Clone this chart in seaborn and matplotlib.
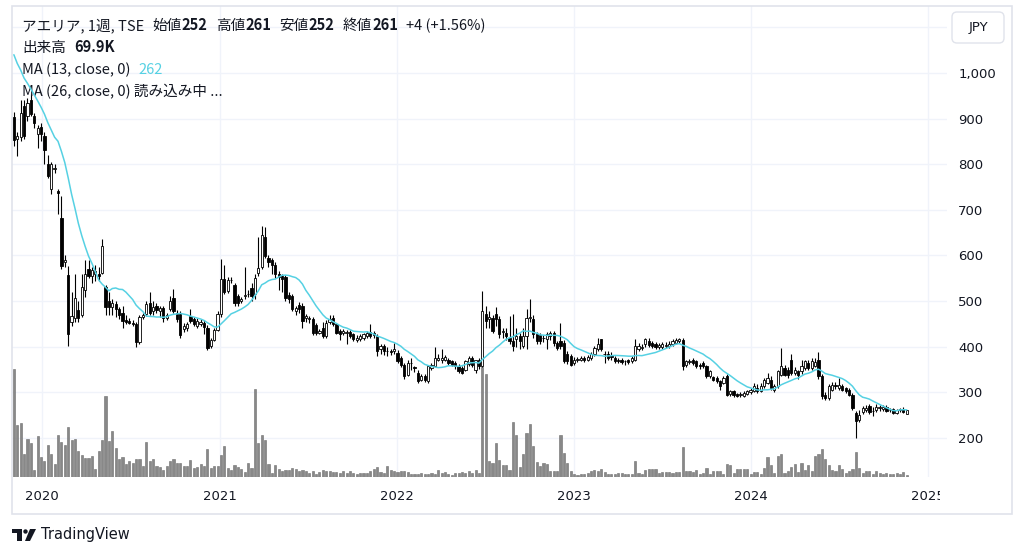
import pandas as pd
import matplotlib
matplotlib.use("Agg")
import matplotlib.pyplot as plt
import matplotlib.dates as mdates
import matplotlib.transforms as mtransforms
from matplotlib.patches import Polygon, Circle, FancyBboxPatch, Rectangle
import seaborn as sns

# weekly candles (TSE, アエリア), first week starts 2019-11-04
first_week = "2019-11-04"

# closes of the 12 weeks before the window, only used to warm up the 13-week MA
prior_closes = [1110, 1100, 1090, 1085, 1070, 1060, 1050, 1045, 1030, 1020, 1010, 996]

opens = [
    904, 856, 860, 928, 905, 940, 905, 866, 882, 862,
    800, 745, 790, 742, 682, 585, 558, 455, 462, 480,
    470, 525, 570, 555, 560, 560, 562, 530, 500, 488,
    493, 482, 475, 458, 456, 452, 450, 410, 466, 472,
    496, 478, 490, 478, 485, 462, 482, 507, 474, 471,
    438, 440, 467, 460, 446, 449, 452, 441, 401, 415,
    437, 471, 549, 522, 547, 535, 511, 500, 512, 516,
    529, 515, 562, 575, 640, 595, 590, 580, 560, 555,
    553, 514, 511, 478, 492, 490, 463, 460, 460, 448,
    430, 441, 424, 455, 464, 449, 434, 430, 431, 432,
    427, 415, 416, 420, 424, 432, 431, 424, 395, 401,
    390, 390, 390, 387, 376, 361, 339, 364, 355, 342,
    328, 335, 324, 354, 357, 372, 370, 372, 372, 368,
    365, 357, 354, 350, 362, 376, 350, 372, 357, 471,
    460, 464, 471, 460, 432, 431, 420, 412, 416, 423,
    402, 424, 462, 460, 427, 425, 420, 416, 423, 431,
    409, 412, 409, 383, 379, 365, 372, 372, 376, 372,
    376, 383, 394, 416, 383, 383, 382, 376, 372, 372,
    368, 370, 368, 372, 395, 398, 405, 412, 408, 406,
    399, 400, 402, 401, 406, 409, 412, 415, 361, 366,
    372, 368, 361, 364, 357, 335, 333, 331, 324, 321,
    335, 297, 302, 296, 295, 293, 297, 300, 302, 310,
    302, 313, 320, 328, 305, 313, 339, 353, 350, 372,
    343, 346, 346, 354, 364, 353, 358, 371, 335, 295,
    288, 306, 317, 310, 313, 309, 306, 295, 255, 240,
    258, 262, 270, 259, 262, 266, 264, 268, 261, 263,
    254, 262, 264, 252,
]

highs = [
    915, 870, 940, 940, 945, 955, 912, 885, 890, 870,
    820, 805, 800, 745, 730, 600, 578, 520, 560, 500,
    560, 590, 590, 575, 580, 575, 637, 535, 520, 505,
    500, 488, 490, 470, 462, 458, 455, 470, 475, 500,
    520, 500, 495, 490, 490, 475, 511, 526, 480, 478,
    452, 455, 482, 465, 462, 460, 458, 447, 420, 440,
    478, 592, 580, 552, 552, 540, 515, 510, 575, 525,
    540, 560, 640, 665, 662, 600, 595, 585, 565, 560,
    558, 520, 515, 490, 498, 495, 472, 468, 465, 452,
    438, 455, 458, 470, 470, 452, 438, 438, 436, 436,
    430, 425, 428, 430, 435, 450, 435, 428, 405, 405,
    400, 395, 408, 392, 380, 365, 370, 375, 358, 348,
    340, 340, 360, 365, 400, 385, 395, 382, 375, 372,
    368, 362, 358, 372, 380, 380, 372, 375, 523, 490,
    478, 470, 486, 468, 440, 440, 467, 471, 440, 430,
    440, 482, 504, 470, 432, 430, 425, 432, 434, 435,
    412, 453, 415, 390, 385, 378, 378, 380, 380, 382,
    388, 402, 420, 418, 390, 390, 388, 380, 376, 376,
    372, 374, 380, 416, 408, 405, 420, 420, 412, 410,
    408, 410, 410, 412, 416, 420, 420, 420, 372, 374,
    376, 372, 365, 368, 360, 350, 336, 335, 328, 336,
    340, 305, 306, 299, 300, 302, 306, 310, 320, 318,
    320, 332, 342, 335, 318, 350, 397, 360, 355, 383,
    355, 350, 372, 372, 370, 375, 375, 388, 340, 300,
    318, 322, 322, 331, 318, 312, 310, 298, 260, 262,
    270, 272, 275, 268, 275, 272, 272, 272, 266, 266,
    264, 266, 268, 261,
]

lows = [
    840, 818, 850, 855, 895, 905, 880, 835, 850, 800,
    770, 735, 780, 690, 570, 575, 401, 445, 455, 455,
    465, 510, 550, 540, 545, 545, 560, 470, 470, 470,
    465, 460, 440, 450, 450, 445, 400, 405, 460, 468,
    470, 470, 475, 465, 455, 458, 478, 475, 455, 420,
    432, 435, 452, 445, 440, 445, 428, 393, 398, 412,
    435, 465, 515, 518, 540, 490, 490, 495, 505, 508,
    500, 505, 555, 570, 595, 575, 560, 550, 525, 520,
    500, 495, 478, 470, 475, 440, 455, 452, 425, 425,
    428, 420, 420, 450, 445, 428, 415, 425, 405, 420,
    412, 410, 412, 415, 420, 420, 420, 380, 385, 382,
    380, 382, 385, 365, 355, 330, 335, 350, 345, 320,
    324, 322, 320, 350, 355, 368, 365, 368, 360, 357,
    352, 343, 340, 347, 358, 356, 343, 352, 355, 440,
    440, 430, 445, 420, 420, 415, 405, 390, 400, 395,
    398, 395, 455, 420, 405, 405, 410, 395, 415, 402,
    392, 395, 365, 362, 358, 360, 366, 368, 366, 368,
    372, 380, 390, 390, 365, 372, 372, 364, 364, 362,
    360, 362, 364, 368, 390, 392, 400, 400, 398, 395,
    396, 396, 398, 397, 402, 405, 408, 350, 355, 362,
    360, 354, 352, 354, 332, 332, 324, 320, 306, 318,
    292, 293, 290, 289, 290, 290, 294, 297, 300, 298,
    300, 310, 318, 305, 300, 310, 335, 335, 332, 338,
    338, 330, 340, 350, 348, 350, 355, 330, 286, 284,
    284, 302, 308, 306, 302, 298, 292, 262, 200, 236,
    252, 258, 253, 248, 258, 260, 260, 256, 258, 252,
    252, 258, 254, 252,
]

closes = [
    854, 862, 912, 862, 935, 910, 890, 880, 866, 832,
    775, 800, 792, 738, 577, 590, 428, 467, 507, 462,
    530, 560, 555, 568, 565, 555, 620, 487, 488, 495,
    482, 470, 456, 455, 453, 450, 410, 466, 470, 493,
    475, 486, 480, 484, 462, 470, 500, 478, 460, 426,
    446, 450, 456, 449, 456, 454, 443, 397, 415, 437,
    471, 548, 520, 546, 546, 496, 496, 504, 514, 515,
    511, 551, 573, 645, 599, 585, 580, 559, 553, 548,
    507, 504, 482, 485, 482, 456, 467, 463, 430, 430,
    434, 424, 453, 460, 449, 431, 427, 434, 431, 424,
    416, 420, 423, 427, 431, 424, 425, 390, 401, 390,
    391, 389, 394, 368, 361, 335, 365, 364, 354, 324,
    335, 328, 357, 361, 376, 376, 376, 378, 365, 361,
    357, 346, 343, 368, 376, 361, 370, 357, 479, 457,
    465, 435, 460, 427, 434, 424, 412, 401, 423, 412,
    424, 464, 466, 427, 412, 412, 419, 427, 430, 408,
    398, 401, 368, 368, 361, 372, 372, 376, 371, 378,
    383, 398, 405, 394, 383, 376, 378, 368, 368, 366,
    368, 366, 376, 401, 402, 400, 416, 404, 402, 399,
    404, 406, 404, 407, 412, 415, 417, 358, 368, 369,
    364, 357, 357, 357, 335, 346, 328, 324, 313, 331,
    295, 302, 295, 292, 295, 299, 302, 306, 313, 302,
    313, 328, 331, 310, 313, 346, 357, 339, 339, 343,
    350, 339, 357, 368, 353, 368, 366, 335, 291, 288,
    313, 317, 313, 317, 306, 302, 295, 266, 237, 251,
    266, 266, 258, 259, 268, 266, 268, 259, 261, 255,
    261, 262, 257, 261,
]

# weekly volume, thousand shares
volumes = [
    3230, 1550, 1630, 700, 1130, 1030, 200, 1230, 600, 470,
    970, 680, 400, 1270, 1050, 950, 1510, 1120, 1130, 790,
    650, 570, 570, 640, 250, 770, 1120, 2420, 1090, 1370,
    880, 530, 590, 380, 480, 410, 540, 550, 320, 1060,
    470, 530, 340, 300, 200, 320, 470, 550, 420, 410,
    320, 320, 520, 260, 300, 380, 320, 840, 260, 320,
    340, 650, 920, 260, 200, 350, 300, 230, 150, 430,
    260, 2640, 1010, 1270, 1100, 390, 130, 350, 230, 170,
    210, 200, 280, 230, 170, 210, 170, 130, 190, 100,
    140, 210, 180, 170, 160, 160, 120, 170, 120, 190,
    120, 90, 110, 120, 130, 170, 250, 290, 150, 130,
    330, 210, 190, 150, 170, 190, 140, 90, 80, 90,
    110, 90, 100, 120, 100, 210, 120, 140, 90, 70,
    110, 130, 150, 120, 170, 130, 210, 130, 3300, 3100,
    470, 430, 1030, 510, 370, 370, 220, 1650, 1270, 300,
    700, 1330, 1590, 920, 450, 320, 410, 390, 180, 170,
    170, 1270, 710, 430, 170, 90, 70, 80, 80, 120,
    170, 210, 170, 230, 150, 100, 80, 90, 110, 110,
    100, 80, 100, 470, 120, 100, 200, 230, 250, 230,
    120, 150, 140, 140, 130, 150, 150, 900, 170, 170,
    140, 220, 100, 120, 280, 100, 170, 190, 190, 100,
    400, 350, 110, 230, 250, 250, 250, 100, 150, 140,
    100, 280, 600, 370, 130, 630, 690, 130, 170, 300,
    390, 150, 430, 210, 370, 170, 630, 700, 830, 550,
    370, 220, 180, 370, 230, 130, 170, 230, 750, 280,
    130, 180, 180, 100, 170, 120, 90, 110, 80, 100,
    120, 100, 160, 69.9,
]

year_labels = ["2020", "2021", "2022", "2023", "2024", "2025"]
price_ticks = [200, 300, 400, 500, 600, 700, 800, 900, 1000]

df = pd.DataFrame({
    "date": pd.date_range(first_week, periods=len(closes), freq="7D"),
    "open": opens, "high": highs, "low": lows, "close": closes, "volume": volumes,
})
ma = pd.Series(prior_closes + closes).rolling(13).mean().iloc[len(prior_closes):]
df["ma13"] = ma.values

sns.set_theme(style="white")
plt.rcParams["font.family"] = ["Noto Sans CJK JP", "DejaVu Sans"]

TXT = "#131722"
GRID = "#f0f3fa"
MA_COLOR = "#56d1e3"

W, H = 1024, 557
fig = plt.figure(figsize=(W / 100, H / 100), dpi=100)
pix = mtransforms.IdentityTransform()


def fx(px):
    return px / W


def fy(py):
    return 1 - py / H


L, R, T, B = 12, 947, 6, 477
rect = [fx(L), fy(B), fx(R) - fx(L), fy(T) - fy(B)]
vol_ax = fig.add_axes(rect)
ax = fig.add_axes(rect, sharex=vol_ax)
ax.patch.set_visible(False)

d2020 = mdates.date2num(pd.Timestamp("2020-01-01"))
px_per_day = 0.485
ax.set_xlim(d2020 + (L - 42) / px_per_day, d2020 + (R - 42) / px_per_day)
ax.set_ylim(114.5, 1146.8)

# grid and volume live on the bottom axes
grid_tr = mtransforms.blended_transform_factory(vol_ax.transAxes, ax.transData)
for p in price_ticks + [1100]:
    vol_ax.plot([0, 1], [p, p], transform=grid_tr, color=GRID, lw=1, zorder=0)
years = [pd.Timestamp(f"{y}-01-01") for y in year_labels]
for d in years:
    vol_ax.axvline(d, color=GRID, lw=1, zorder=0)

vol_ax.bar(df["date"], df["volume"], width=4.4, color="#888888",
           edgecolor="#6c6c6c", linewidth=0.4, zorder=2)
vol_ax.set_ylim(0, 14130)
vol_ax.axis("off")

# candles
up = df["close"] >= df["open"]
body_low = df[["open", "close"]].min(axis=1)
body_h = (df["close"] - df["open"]).abs().clip(lower=1.2)
ax.vlines(df["date"], df["low"], df["high"], color="black", lw=0.8, zorder=2)
ax.bar(df["date"], body_h, bottom=body_low, width=4.6,
       color=["white" if u else "black" for u in up],
       edgecolor="black", linewidth=0.6, zorder=3)

sns.lineplot(x=df["date"], y=df["ma13"], ax=ax, color=MA_COLOR, linewidth=1.1, zorder=4)

ax.set_xlabel("")
ax.set_ylabel("")
for s in ax.spines.values():
    s.set_visible(False)
ax.yaxis.tick_right()
ax.set_yticks(price_ticks)
ax.set_yticklabels([f"{p:,}" for p in price_ticks], family="DejaVu Sans")
ax.tick_params(axis="y", length=0, pad=8, labelsize=9.5, labelcolor=TXT)
ax.tick_params(axis="x", length=0)
ax.set_xticks([])

# year labels under the plot, clipped where the time scale ends
xl_tr = mtransforms.blended_transform_factory(ax.transData, pix)
clip = mtransforms.TransformedBbox(mtransforms.Bbox([[0, 0], [940, H]]), pix)
for d, lab in zip(years, year_labels):
    t = ax.text(d, H - 497, lab, transform=xl_tr, ha="center", va="center",
                fontsize=9.5, color=TXT, family="DejaVu Sans", clip_on=True)
    t.set_clip_box(clip)


# legend lines at the top left
def chain(parts, x, y, size=10.5):
    prev = None
    for text, gap, color, weight in parts:
        if prev is None:
            prev = ax.annotate(text, xy=(fx(x), fy(y)), xycoords="figure fraction",
                               ha="left", va="center", fontsize=size, color=color,
                               fontweight=weight)
        else:
            prev = ax.annotate(text, xy=(1, 0), xycoords=prev, xytext=(gap, 0),
                               textcoords="offset points", ha="left", va="bottom",
                               fontsize=size, color=color, fontweight=weight)


chain([("アエリア, 1週, TSE", 0, TXT, "normal"),
       ("始値", 6, TXT, "normal"), ("252", 0, TXT, "bold"),
       ("高値", 6, TXT, "normal"), ("261", 0, TXT, "bold"),
       ("安値", 6, TXT, "normal"), ("252", 0, TXT, "bold"),
       ("終値", 6, TXT, "normal"), ("261", 0, TXT, "bold"),
       ("+4 (+1.56%)", 6, TXT, "normal")], 22, 26)
chain([("出来高", 0, TXT, "normal"), ("69.9K", 6, TXT, "bold")], 22, 48)
chain([("MA (13, close, 0)", 0, TXT, "normal"), ("262", 6, MA_COLOR, "normal")], 22, 70)
chain([("MA (26, close, 0) 読み込み中 ...", 0, TXT, "normal")], 22, 92)

# outer frame, currency box and logo
fig.patches.append(Rectangle((L, H - 514), 1012 - L, 514 - 6, transform=pix,
                             fill=False, ec="#e0e3eb", lw=1.2))
fig.patches.append(FancyBboxPatch((952, H - 43), 52, 31, boxstyle="round,pad=0,rounding_size=5",
                                  transform=pix, fc="white", ec="#e0e3eb", lw=1))
fig.text(fx(978), fy(28), "JPY", ha="center", va="center", fontsize=9.5, color=TXT,
         family="DejaVu Sans")

fig.patches.append(Polygon([(12, H - 529), (22, H - 529), (22, H - 541), (17, H - 541),
                            (17, H - 533), (12, H - 533)], closed=True, transform=pix,
                           fc=TXT, ec="none"))
fig.patches.append(Circle((25.5, H - 531.5), 2.2, transform=pix, fc=TXT, ec="none"))
fig.patches.append(Polygon([(30, H - 529), (36, H - 529), (30, H - 541), (25, H - 541)],
                           closed=True, transform=pix, fc=TXT, ec="none"))
fig.text(fx(41), fy(535), "TradingView", ha="left", va="center", fontsize=10.5,
         color=TXT, family="DejaVu Sans")

fig.savefig("out.png", dpi=100)
